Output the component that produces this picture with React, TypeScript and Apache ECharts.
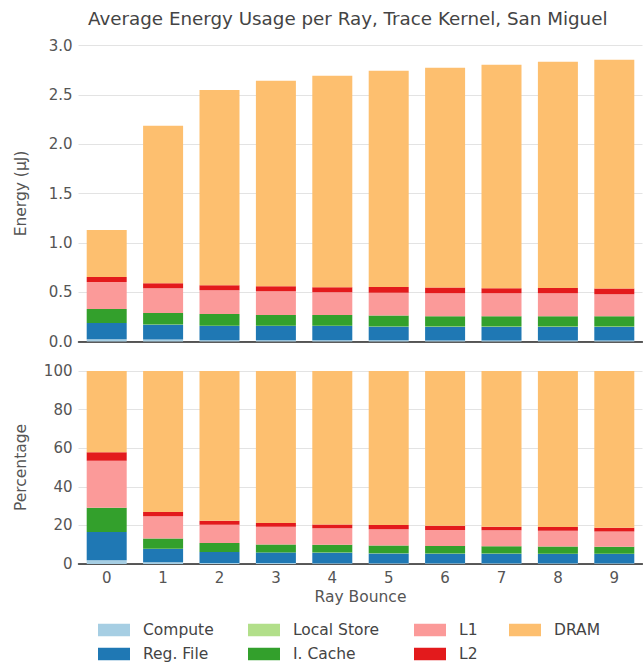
import React, { useEffect, useRef } from "react";
import * as echarts from "echarts";

const categories = ["0", "1", "2", "3", "4", "5", "6", "7", "8", "9"];
const seriesNames = ["Compute", "Reg. File", "Local Store", "I. Cache", "L1", "L2", "DRAM"];
const colors = ["#a6cee3", "#1f78b4", "#b2df8a", "#33a02c", "#fb9a99", "#e31a1c", "#fdbf6f"];

const compute = [0.022, 0.020, 0.013, 0.012, 0.012, 0.012, 0.011, 0.011, 0.011, 0.011];
const regFile = [0.165, 0.150, 0.145, 0.145, 0.145, 0.137, 0.137, 0.137, 0.137, 0.137];
const localStore = [0.001, 0.002, 0.002, 0.002, 0.002, 0.004, 0.004, 0.004, 0.004, 0.004];
const iCache = [0.142, 0.118, 0.118, 0.109, 0.109, 0.110, 0.105, 0.105, 0.105, 0.103];
const l1 = [0.274, 0.250, 0.242, 0.242, 0.232, 0.232, 0.233, 0.233, 0.233, 0.225];
const l2 = [0.050, 0.050, 0.050, 0.050, 0.050, 0.058, 0.058, 0.050, 0.052, 0.058];
const dram = [0.476, 1.596, 1.980, 2.082, 2.143, 2.191, 2.226, 2.265, 2.293, 2.318];

const energyTicks = { min: 0, max: 3, interval: 0.5 };
const percentTicks = { min: 0, max: 100, interval: 20 };

const allSeries = [compute, regFile, localStore, iCache, l1, l2, dram];

export default function App() {
  const ref = useRef<HTMLDivElement>(null);
  useEffect(() => {
    if (!ref.current) return;
    const chart = echarts.init(ref.current, undefined, { renderer: "svg" });
    const totals = categories.map((_, i) => allSeries.reduce((s, arr) => s + arr[i], 0));
    const labelColor = "#555";
    const font = "DejaVu Sans";
    const gridLine = { show: true, lineStyle: { color: "#e3e3e3", width: 1 } };
    const energySeries = allSeries.map((arr, k) => ({
      name: seriesNames[k],
      type: "bar",
      stack: "energy",
      xAxisIndex: 0,
      yAxisIndex: 0,
      barWidth: 40,
      data: arr,
      itemStyle: { color: colors[k], borderWidth: 0 },
    }));
    const pctSeries = allSeries.map((arr, k) => ({
      name: seriesNames[k],
      type: "bar",
      stack: "pct",
      xAxisIndex: 1,
      yAxisIndex: 1,
      barWidth: 40,
      data: arr.map((v, i) => (v / totals[i]) * 100),
      itemStyle: { color: colors[k], borderWidth: 0 },
    }));
    const legendCols = [
      { names: ["Compute", "Reg. File"], left: 98 },
      { names: ["Local Store", "I. Cache"], left: 248 },
      { names: ["L1", "L2"], left: 414 },
      { names: ["DRAM"], left: 509 },
    ];
    chart.setOption({
      animation: false,
      textStyle: { fontFamily: font },
      title: {
        text: "Average Energy Usage per Ray, Trace Kernel, San Miguel",
        left: 83,
        top: 4,
        textStyle: { fontSize: 18.3, fontWeight: "normal", color: "#444", fontFamily: font },
      },
      legend: legendCols.map((c) => ({
        data: c.names,
        left: c.left,
        top: 622,
        height: 60,
        padding: 0,
        orient: "vertical",
        icon: "rect",
        itemWidth: 32,
        itemHeight: 12.5,
        itemGap: 8,
        selectedMode: false,
        textStyle: { fontSize: 15.5, color: "#444", fontFamily: font, padding: [0, 0, 0, 8] },
      })),
      grid: [
        { left: 78.5, right: 0.5, top: 45.5, height: 296 },
        { left: 78.5, right: 0.5, top: 371, height: 193 },
      ],
      xAxis: [
        {
          type: "category",
          gridIndex: 0,
          data: categories,
          axisLabel: { show: false },
          axisTick: { show: false },
          axisLine: { lineStyle: { color: "#262626", width: 1.5 } },
        },
        {
          type: "category",
          gridIndex: 1,
          data: categories,
          name: "Ray Bounce",
          nameLocation: "middle",
          nameGap: 25,
          nameTextStyle: { fontSize: 15.5, color: labelColor, fontFamily: font },
          axisLabel: { fontSize: 15, color: labelColor, margin: 6, fontFamily: font },
          axisTick: { show: false },
          axisLine: { lineStyle: { color: "#262626", width: 1.5 } },
        },
      ],
      yAxis: [
        {
          type: "value",
          gridIndex: 0,
          ...energyTicks,
          name: "Energy (μJ)",
          nameLocation: "middle",
          nameGap: 50,
          nameTextStyle: { fontSize: 15.5, color: labelColor, fontFamily: font },
          axisLabel: { fontSize: 15, color: labelColor, margin: 6, fontFamily: font, formatter: (v: number) => v.toFixed(1) },
          axisLine: { show: false },
          axisTick: { show: false },
          splitLine: gridLine,
        },
        {
          type: "value",
          gridIndex: 1,
          ...percentTicks,
          name: "Percentage",
          nameLocation: "middle",
          nameGap: 50,
          nameTextStyle: { fontSize: 15.5, color: labelColor, fontFamily: font },
          axisLabel: { fontSize: 15, color: labelColor, margin: 6, fontFamily: font },
          axisLine: { show: false },
          axisTick: { show: false },
          splitLine: gridLine,
        },
      ],
      series: [...energySeries, ...pctSeries],
    });
    return () => chart.dispose();
  }, []);
  return (
    <div
      ref={ref}
      style={{ position: "fixed", left: 0, top: 0, width: 643, height: 664, background: "#fff" }}
    />
  );
}
